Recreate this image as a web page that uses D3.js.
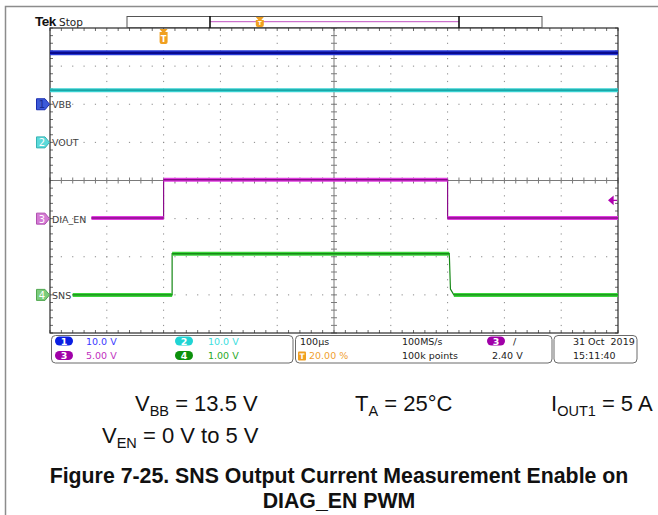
<!DOCTYPE html>
<html>
<head>
<meta charset="utf-8">
<script src="https://cdn.jsdelivr.net/npm/d3@7"></script>
<style>
  body { margin: 0; background: #fff; }
  svg { display: block; }
</style>
</head>
<body>
<main></main>
<script>
let svgWidth  = 658;
let svgHeight = 515;

// scope settings
const channelIds   = ['1', '2', '3', '4'];
const channelNames = ['VBB', 'VOUT', 'DIA_EN', 'SNS'];
const voltsPerDiv  = [10, 10, 5, 1];
const groundDiv    = [2, 1, -1, -3];
const scaleLabels  = ['10.0 V', '10.0 V', '5.00 V', '1.00 V'];

// traces (time in us, value in V)
const vbbTime  = [-200, 800];
const vbbVolts = [13.5, 13.5];
const voutTime  = [-200, 800];
const voutVolts = [13.7, 13.7];
const diaTime  = [-127, 0, 0, 500, 500, 800];
const diaVolts = [0.08, 0.08, 5.1, 5.1, 0.08, 0.08];
const snsTime  = [-160, 15, 15, 503, 505, 511, 800];
const snsVolts = [0.0, 0.0, 1.08, 1.08, 0.15, 0.0, 0.0];

const timeDomain   = [-200, 800];   // 100us/div, trigger at 20%
const triggerLevel = 2.4;           // on channel 3

const bandColor  = ['#2638d8', '#3ad2d2', '#e03ce0', '#3cd63c'];
const coreColor  = ['#0a0a8c', '#0f9898', '#8a0a8a', '#168816'];
const markFill   = ['#3c5ad8', '#5cdada', '#d47ad4', '#7ccc7c'];
const markStroke = ['#1a2cb0', '#36b4b4', '#b050b0', '#50a850'];
const pillColor  = ['#0a1ee2', '#1fd4d4', '#a000a8', '#0c900c'];
const textColor  = ['#3a3aff', '#40dede', '#c030c0', '#2aa82a'];

let plotLeft = 50, plotRight = 618, plotTop = 28, plotBottom = 333;

var svg = d3.select('body main').append('svg')
  .attr('width', svgWidth)
  .attr('height', svgHeight);

var x    = d3.scaleLinear().domain(timeDomain).range([plotLeft, plotRight]);
var xDiv = d3.scaleLinear().domain([0, 10]).range([plotLeft, plotRight]);
var yDiv = d3.scaleLinear().domain([-4, 4]).range([plotBottom, plotTop]);

function yOf(ch, v) { return yDiv(groundDiv[ch] + v / voltsPerDiv[ch]); }

// outer page frame
svg.append('path')
  .attr('d', 'M5.5,515 L5.5,6.5 L658,6.5')
  .attr('fill', 'none').attr('stroke', '#8c8c8c').attr('stroke-width', 1.5);

// ---- graticule ----
var grid = svg.append('g');
var minorX = d3.range(0, 50.001, 1).map(d => d / 5);
var minorY = d3.range(-20, 20.001, 1).map(d => d / 5);

// dots along vertical grid lines
d3.range(1, 10).filter(k => k != 5).forEach(function(k) {
  grid.selectAll(null).data(minorY.slice(1, -1)).enter().append('rect')
    .attr('x', xDiv(k) - 0.5).attr('y', d => yDiv(d) - 0.5)
    .attr('width', 1).attr('height', 1.2).attr('fill', '#8a8a8a');
});
// dots along horizontal grid lines
d3.range(-3, 4).filter(k => k != 0).forEach(function(k) {
  grid.selectAll(null).data(minorX.slice(1, -1)).enter().append('rect')
    .attr('x', d => xDiv(d) - 0.6).attr('y', yDiv(k) - 0.5)
    .attr('width', 1.2).attr('height', 1).attr('fill', '#8a8a8a');
});

// center cross
var cx = xDiv(5), cy = yDiv(0);
grid.append('line').attr('x1', plotLeft).attr('x2', plotRight).attr('y1', cy).attr('y2', cy)
  .attr('stroke', '#7a7a7a').attr('stroke-width', 1);
grid.append('line').attr('x1', cx).attr('x2', cx).attr('y1', plotTop).attr('y2', plotBottom)
  .attr('stroke', '#7a7a7a').attr('stroke-width', 1);
grid.selectAll(null).data(minorX).enter().append('line')
  .attr('x1', d => xDiv(d)).attr('x2', d => xDiv(d))
  .attr('y1', cy - 3).attr('y2', cy + 3)
  .attr('stroke', '#7a7a7a').attr('stroke-width', 1);
grid.selectAll(null).data(minorY).enter().append('line')
  .attr('y1', d => yDiv(d)).attr('y2', d => yDiv(d))
  .attr('x1', cx - 3).attr('x2', cx + 3)
  .attr('stroke', '#7a7a7a').attr('stroke-width', 1);

// border ticks
grid.selectAll(null).data(minorX).enter().append('line')
  .attr('x1', d => xDiv(d)).attr('x2', d => xDiv(d))
  .attr('y1', plotTop).attr('y2', plotTop + 3)
  .attr('stroke', '#6a6a6a').attr('stroke-width', 1);
grid.selectAll(null).data(minorX).enter().append('line')
  .attr('x1', d => xDiv(d)).attr('x2', d => xDiv(d))
  .attr('y1', plotBottom - 3).attr('y2', plotBottom)
  .attr('stroke', '#6a6a6a').attr('stroke-width', 1);
grid.selectAll(null).data(minorY).enter().append('line')
  .attr('y1', d => yDiv(d)).attr('y2', d => yDiv(d))
  .attr('x1', plotLeft).attr('x2', plotLeft + 3)
  .attr('stroke', '#6a6a6a').attr('stroke-width', 1);
grid.selectAll(null).data(minorY).enter().append('line')
  .attr('y1', d => yDiv(d)).attr('y2', d => yDiv(d))
  .attr('x1', plotRight - 3).attr('x2', plotRight)
  .attr('stroke', '#6a6a6a').attr('stroke-width', 1);

grid.append('rect')
  .attr('x', plotLeft).attr('y', plotTop)
  .attr('width', plotRight - plotLeft).attr('height', plotBottom - plotTop)
  .attr('fill', 'none').attr('stroke', '#2a2a2a').attr('stroke-width', 1.2);

// ---- traces ----
var traces = [
  { ch: 0, t: vbbTime,  v: vbbVolts },
  { ch: 1, t: voutTime, v: voutVolts },
  { ch: 2, t: diaTime,  v: diaVolts },
  { ch: 3, t: snsTime,  v: snsVolts }
];

var line = d3.line().x(d => x(d[0])).y(d => d[1]);

traces.forEach(function(tr) {
  var pts = tr.t.map((t, i) => [t, yOf(tr.ch, tr.v[i])]);
  var g = svg.append('g');
  // thin edges
  g.append('path').attr('d', line(pts))
    .attr('fill', 'none').attr('stroke', coreColor[tr.ch]).attr('stroke-width', 1.2);
  // noisy flat levels: wide band + darker core
  var flats = [];
  for (let i = 1; i < pts.length; ++i) {
    if (tr.v[i] == tr.v[i - 1] && tr.t[i] != tr.t[i - 1]) flats.push([pts[i - 1], pts[i]]);
  }
  var w = tr.ch == 0 ? 5 : 4;
  g.selectAll(null).data(flats).enter().append('path')
    .attr('d', d => line(d))
    .attr('fill', 'none').attr('stroke', bandColor[tr.ch]).attr('stroke-width', w);
  g.selectAll(null).data(flats).enter().append('path')
    .attr('d', d => line(d))
    .attr('fill', 'none').attr('stroke', coreColor[tr.ch]).attr('stroke-width', tr.ch == 0 ? 2.2 : 1.4);
});

// ---- ground markers and labels ----
var mk = svg.selectAll('g.mk').data(channelIds).enter().append('g')
  .attr('transform', (d, i) => 'translate(36,' + yOf(i, 0) + ')');
mk.append('path')
  .attr('d', 'M0.5,-5.5 L9,-5.5 L13.5,0 L9,5.5 L0.5,5.5 Z')
  .attr('fill', (d, i) => markFill[i]).attr('stroke', (d, i) => markStroke[i]).attr('stroke-width', 1);
mk.append('text')
  .attr('x', 6).attr('y', 4)
  .attr('text-anchor', 'middle')
  .attr('font-family', 'DejaVu Sans').attr('font-size', '10px')
  .attr('fill', (d, i) => i == 0 ? '#1a2a90' : '#ffffff')
  .text(d => d);
mk.append('text')
  .attr('x', 16).attr('y', 4)
  .attr('font-family', 'DejaVu Sans').attr('font-size', '9.5px')
  .attr('fill', '#404040')
  .text((d, i) => channelNames[i]);

// trigger level arrow (channel 3)
var ty = yOf(2, triggerLevel);
svg.append('path')
  .attr('d', 'M' + (plotRight - 9) + ',' + ty + ' l4,-3.5 l0,7 z M' + (plotRight - 6) + ',' + ty + ' L' + (plotRight - 1) + ',' + ty)
  .attr('fill', '#b000b0').attr('stroke', '#b000b0').attr('stroke-width', 1.3);

// trigger position marker
function tMarker(px, top, h) {
  var g = svg.append('g').attr('transform', 'translate(' + px + ',' + top + ')');
  g.append('path')
    .attr('d', 'M-4,0 L4,0 L1.5,3 L4,3 L4,' + (h - 2) + ' Q4,' + h + ' 2,' + h + ' L-2,' + h + ' Q-4,' + h + ' -4,' + (h - 2) + ' L-4,3 L-1.5,3 Z')
    .attr('fill', '#f0a020');
  g.append('text').attr('x', 0).attr('y', h - 2.5).attr('text-anchor', 'middle')
    .attr('font-family', 'DejaVu Sans').attr('font-weight', 'bold').attr('font-size', (h * 0.55) + 'px')
    .attr('fill', '#fff').text('T');
}
tMarker(x(0), 29, 15);

// ---- header ----
svg.append('text').attr('x', 35).attr('y', 25.5)
  .attr('font-family', 'Liberation Sans').attr('font-weight', 'bold').attr('font-size', '13.5px')
  .attr('letter-spacing', '-0.5').attr('fill', '#111').text('Tek');
svg.append('text').attr('x', 59).attr('y', 25.5)
  .attr('font-family', 'DejaVu Sans').attr('font-size', '10.5px')
  .attr('fill', '#222').text('Stop');

// record view bar
var rec = d3.scaleLinear().domain([0, 1]).range([127, 542]);
svg.append('rect').attr('x', rec(0)).attr('y', 16.5).attr('width', rec(1) - rec(0)).attr('height', 11)
  .attr('fill', '#fff').attr('stroke', '#555').attr('stroke-width', 1);
svg.append('line').attr('x1', rec(0.2)).attr('x2', rec(0.8)).attr('y1', 21.7).attr('y2', 21.7)
  .attr('stroke', '#c050c0').attr('stroke-width', 1);
svg.append('line').attr('x1', rec(0.2)).attr('x2', rec(0.2)).attr('y1', 16).attr('y2', 28)
  .attr('stroke', '#111').attr('stroke-width', 1.6);
svg.append('line').attr('x1', rec(0.8)).attr('x2', rec(0.8)).attr('y1', 16).attr('y2', 28)
  .attr('stroke', '#111').attr('stroke-width', 1.6);
tMarker(rec(0.2) + (rec(0.8) - rec(0.2)) * 0.2, 17, 10);

// ---- info panel ----
function panelBox(x0, x1) {
  svg.append('rect').attr('x', x0).attr('y', 335.5).attr('width', x1 - x0).attr('height', 27.5)
    .attr('rx', 4).attr('fill', '#fff').attr('stroke', '#6a6a6a').attr('stroke-width', 1);
}
panelBox(51.5, 293);
panelBox(295.5, 552);
panelBox(554, 637);

function infoText(px, py, txt, color) {
  return svg.append('text').attr('x', px).attr('y', py)
    .attr('font-family', 'DejaVu Sans').attr('font-size', '9.5px')
    .attr('fill', color).text(txt);
}
function pill(px, py, label, color) {
  svg.append('rect').attr('x', px).attr('y', py - 4.5).attr('width', 18).attr('height', 9)
    .attr('rx', 4.5).attr('fill', color);
  svg.append('text').attr('x', px + 9).attr('y', py + 3.5).attr('text-anchor', 'middle')
    .attr('font-family', 'DejaVu Sans').attr('font-weight', 'bold').attr('font-size', '9.5px')
    .attr('fill', '#fff').text(label);
}

var pillX = [55, 175, 55, 175], textX = [86, 208, 86, 208], rowY = [341, 341, 355.5, 355.5];
channelIds.forEach(function(id, i) {
  pill(pillX[i], rowY[i], id, pillColor[i]);
  infoText(textX[i], rowY[i] + 3.5, scaleLabels[i], textColor[i]);
});

infoText(300, 344.5, '100\u00b5s', '#222');
svg.append('rect').attr('x', 298).attr('y', 351.5).attr('width', 8).attr('height', 9).attr('rx', 1).attr('fill', '#f0a020');
svg.append('text').attr('x', 302).attr('y', 359).attr('text-anchor', 'middle')
  .attr('font-family', 'DejaVu Sans').attr('font-weight', 'bold').attr('font-size', '7.5px')
  .attr('fill', '#fff').text('T');
infoText(309, 359, '20.00 %', '#f0a030');
infoText(402, 344.5, '100MS/s', '#222');
infoText(402, 359, '100k points', '#222');
pill(487, 341, '3', pillColor[2]);
infoText(513, 344.5, '/', '#222');
infoText(492, 359, triggerLevel.toFixed(2) + ' V', '#222');
infoText(573, 344.5, '31 Oct  2019', '#222').attr('xml:space', 'preserve').style('white-space', 'pre');
infoText(573, 359, '15:11:40', '#222');

// ---- conditions and caption ----
function condText(px, py, main, sub, rest) {
  var t = svg.append('text').attr('x', px).attr('y', py)
    .attr('font-family', 'Liberation Sans').attr('font-size', '22px').attr('fill', '#111');
  t.append('tspan').text(main);
  t.append('tspan').attr('dy', 5).attr('font-size', '14.5px').text(sub);
  t.append('tspan').attr('dy', -5).text(rest);
}
condText(135, 411, 'V', 'BB', ' = 13.5 V');
condText(355, 411, 'T', 'A', ' = 25\u00b0C');
condText(551, 411, 'I', 'OUT1', ' = 5 A');
condText(102, 443, 'V', 'EN', ' = 0 V to 5 V');

svg.append('text').attr('x', 339).attr('y', 483).attr('text-anchor', 'middle')
  .attr('font-family', 'Liberation Sans').attr('font-weight', 'bold').attr('font-size', '21.3px')
  .attr('fill', '#111').text('Figure 7-25. SNS Output Current Measurement Enable on');
svg.append('text').attr('x', 339).attr('y', 508).attr('text-anchor', 'middle')
  .attr('font-family', 'Liberation Sans').attr('font-weight', 'bold').attr('font-size', '21.3px')
  .attr('fill', '#111').text('DIAG_EN PWM');
</script>
</body>
</html>
